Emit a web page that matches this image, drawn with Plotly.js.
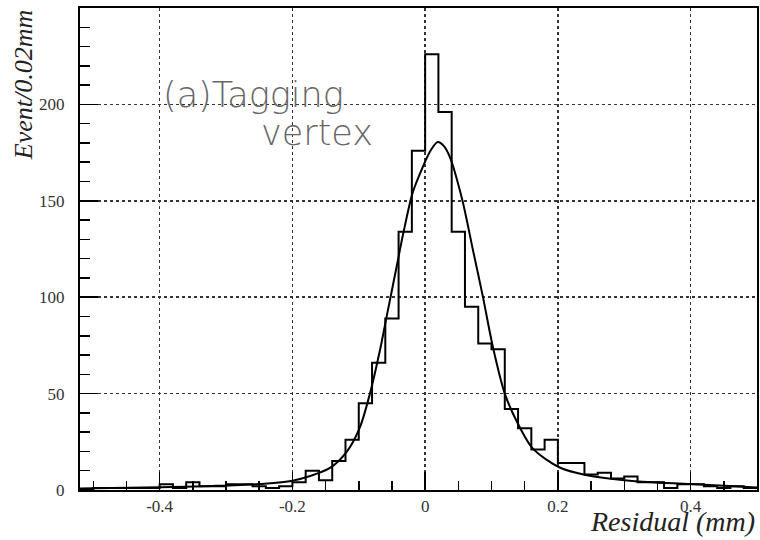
<!DOCTYPE html>
<html>
<head>
<meta charset="utf-8">
<script src="https://cdn.plot.ly/plotly-3.0.1.min.js"></script>
<style>html,body{margin:0;padding:0;background:#fff;}#chart{width:760px;height:540px;}</style>
</head>
<body>
<div id="chart"></div>
<script>
// Histogram: bin width 0.02 mm, first bin starts at -0.52 mm
const binStart = -0.52;
const binWidth = 0.02;
const counts = [
  0, 1, 1, 1, 1, 1, 3, 1, 4, 2,
  2, 3, 3, 2, 1, 2, 4, 10, 5, 15,
  26, 45, 66, 89, 134, 176, 226, 196, 134, 95,
  76, 73, 42, 32, 21, 26, 14, 14, 8, 9,
  6, 7, 4, 4, 1, 3, 3, 2, 1, 2,
  1
];

// Fit curve
const fitX = [-0.52, -0.50, -0.40, -0.32, -0.25, -0.20, -0.144, -0.118, -0.098, -0.083,
              -0.068, -0.058, -0.043, -0.033, -0.019, -0.003, 0.008, 0.019, 0.028, 0.037,
              0.056, 0.072, 0.087, 0.102, 0.120, 0.137, 0.162, 0.202, 0.242, 0.312,
              0.40, 0.50];
const fitY = [0.8, 0.9, 1.4, 2.1, 3.1, 4.8, 11.3, 19.9, 32.8, 50.2,
              72.6, 89.9, 115.8, 133, 154, 168, 176, 180.5, 178.5, 172.9,
              150.4, 124.5, 100.3, 74.3, 50, 36.3, 21.6, 11.8, 7.8, 4.7,
              3.1, 1.3];

const xTickVals = [-0.4, -0.2, 0, 0.2, 0.4];
const xTickText = ['-0.4', '-0.2', '0', '0.2', '0.4'];
const yTickVals = [0, 50, 100, 150, 200, 250];
const yTickText = ['0', '50', '100', '150', '200', '250'];

const xTitle = 'Residual (mm)';
const yTitle = 'Event/0.02mm';
const label1 = '(a)Tagging';
const label2 = 'vertex';

// step outline
const stepX = counts.map((_, i) => binStart + i * binWidth);
stepX.push(binStart + counts.length * binWidth);
const stepY = counts.slice();
stepY.push(counts[counts.length - 1]);

const serif = 'Liberation Serif, Times New Roman, serif';
const labelFont = 'DejaVu Sans, sans-serif';

const traces = [
  {x: stepX, y: stepY, type: 'scatter', mode: 'lines',
   line: {shape: 'hv', color: '#000', width: 2}, hoverinfo: 'skip'},
  {x: fitX, y: fitY, type: 'scatter', mode: 'lines',
   line: {shape: 'spline', smoothing: 0.8, color: '#000', width: 2}, hoverinfo: 'skip'}
];

const axisCommon = {
  showline: true, linecolor: '#000', linewidth: 2, mirror: true,
  ticks: 'inside', tickcolor: '#000', tickwidth: 1.5, ticklen: 18,
  showgrid: true, gridcolor: '#333', gridwidth: 1.5, griddash: 'dot',
  zeroline: false,
  tickfont: {family: serif, size: 17, color: '#333'}
};

const layout = {
  width: 760, height: 540,
  margin: {l: 80, r: 3, t: 8, b: 50},
  paper_bgcolor: '#fff', plot_bgcolor: '#fff',
  showlegend: false,
  xaxis: Object.assign({}, axisCommon, {
    range: [-0.52, 0.5],
    tickmode: 'array', tickvals: xTickVals, ticktext: xTickText,
    ticklabelstandoff: 0,
    minor: {dtick: 0.05, tick0: 0, ticks: 'inside', ticklen: 9, tickcolor: '#000', tickwidth: 1.5, showgrid: false}
  }),
  yaxis: Object.assign({}, axisCommon, {
    range: [0, 250],
    tickmode: 'array', tickvals: yTickVals, ticktext: yTickText,
    ticklabelstandoff: 10,
    minor: {dtick: 10, tick0: 0, ticks: 'inside', ticklen: 10, tickcolor: '#000', tickwidth: 1.5, showgrid: false}
  }),
  annotations: [
    {text: xTitle, xref: 'paper', yref: 'paper', x: 1.0, y: -0.03, xanchor: 'right', yanchor: 'top',
     showarrow: false, font: {family: serif, size: 28, color: '#222', style: 'italic'}},
    {text: yTitle, xref: 'paper', yref: 'paper', x: -0.084, y: 1.0, xanchor: 'center', yanchor: 'top',
     textangle: -90, showarrow: false, font: {family: serif, size: 26, color: '#222', style: 'italic'}},
    {text: label1, xref: 'x', yref: 'y', x: -0.398, y: 205, xanchor: 'left', yanchor: 'middle',
     showarrow: false, font: {family: labelFont, size: 35, color: '#666', weight: 200}},
    {text: label2, xref: 'x', yref: 'y', x: -0.25, y: 185, xanchor: 'left', yanchor: 'middle',
     showarrow: false, font: {family: labelFont, size: 35, color: '#666', weight: 200}}
  ]
};

Plotly.newPlot('chart', traces, layout, {staticPlot: true, displayModeBar: false});
</script>
</body>
</html>
